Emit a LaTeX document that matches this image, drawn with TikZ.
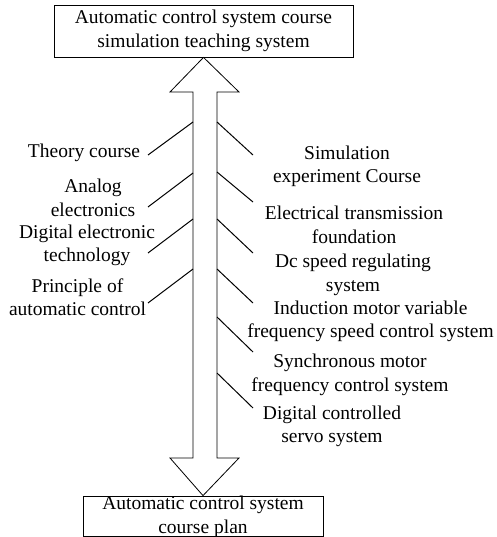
\documentclass[tikz,border=0pt]{standalone}
\usepackage{fontspec}
\setmainfont{Liberation Serif}
\newcommand\labfont{\fontsize{19.5}{23.5}\selectfont}
\tikzset{
  boxnode/.style={draw, line width=0.8pt, inner sep=0pt},
  lbl/.style={align=center, inner sep=0pt, font=\labfont},
  tick/.style={line width=1pt},
  bigarrow/.style={draw, line width=0.8pt, fill=white, line join=miter}
}
\begin{document}
\begin{tikzpicture}[x=1pt, y=-1pt]
\useasboundingbox (0,0) rectangle (496,537);
% boxes
\node[boxnode, minimum width=299pt, minimum height=52pt] (top) at (203.5,31) {};
\node[lbl] (toptext) at (top.center) {Automatic control system course\\simulation teaching system};
\node[boxnode, minimum width=240pt, minimum height=40pt] (bot) at (203,516) {};
\node[lbl] (bottext) at (203,517) {Automatic control system\\course plan};
% double arrow
\draw[bigarrow] (top.south) -- (239,92) -- (217,92) -- (217,458) -- (239,458) -- (bot.north) -- (170,458) -- (193,458) -- (193,92) -- (170,92) -- cycle;
% left labels
\node[lbl] (l1) at (84,153) {Theory course};
\node[lbl] (l2) at (93,198) {Analog\\electronics};
\node[lbl] (l3) at (87,245.5) {Digital electronic\\technology};
\node[lbl] (l4) at (77.5,297) {Principle of\\automatic control};
% right labels
\node[lbl] (r1) at (347,166.5) {Simulation\\experiment Course};
\node[lbl] (r2) at (354,225) {Electrical transmission\\foundation};
\node[lbl] (r3) at (353,275) {Dc speed regulating\\system};
\node[lbl] (r4) at (370.5,321.5) {Induction motor variable\\frequency speed control system};
\node[lbl] (r5) at (350,375) {Synchronous motor\\frequency control system};
\node[lbl] (r6) at (332,426.5) {Digital controlled\\servo system};
% left ticks
\coordinate (la1) at (193,122); \coordinate (lb1) at (148,155);
\coordinate (la2) at (193,173); \coordinate (lb2) at (148,207);
\coordinate (la3) at (193,219); \coordinate (lb3) at (148,253);
\coordinate (la4) at (193,269); \coordinate (lb4) at (148,303);
\foreach \i in {1,...,4} \draw[tick] (la\i) -- (lb\i);
% right ticks
\coordinate (ra1) at (217,122); \coordinate (rb1) at (253,155);
\coordinate (ra2) at (217,172); \coordinate (rb2) at (253,202);
\coordinate (ra3) at (217,219); \coordinate (rb3) at (253,253);
\coordinate (ra4) at (217,269); \coordinate (rb4) at (253,303);
\coordinate (ra5) at (217,317); \coordinate (rb5) at (253,352);
\coordinate (ra6) at (217,373); \coordinate (rb6) at (253,408);
\foreach \i in {1,...,6} \draw[tick] (ra\i) -- (rb\i);
\end{tikzpicture}
\end{document}
